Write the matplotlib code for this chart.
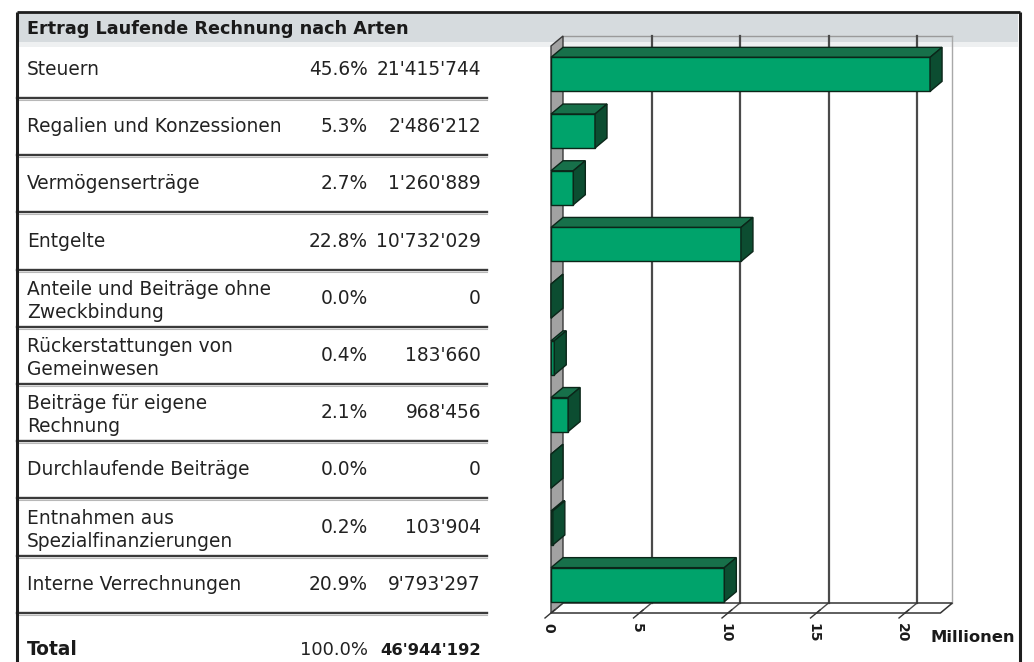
import matplotlib
matplotlib.use("Agg")
import matplotlib.pyplot as plt
from matplotlib.patches import Polygon, Rectangle
from matplotlib.transforms import ScaledTranslation

# ---- data -------------------------------------------------------------
title = "Ertrag Laufende Rechnung nach Arten"
categories = [
    "Steuern",
    "Regalien und Konzessionen",
    "Vermögenserträge",
    "Entgelte",
    "Anteile und Beiträge ohne\nZweckbindung",
    "Rückerstattungen von\nGemeinwesen",
    "Beiträge für eigene\nRechnung",
    "Durchlaufende Beiträge",
    "Entnahmen aus\nSpezialfinanzierungen",
    "Interne Verrechnungen",
]
shares = [45.6, 5.3, 2.7, 22.8, 0.0, 0.4, 2.1, 0.0, 0.2, 20.9]
amounts = [21415744, 2486212, 1260889, 10732029, 0, 183660, 968456, 0, 103904, 9793297]
total_label = "Total"
total_share = 100.0
total_amount = 46944192
tick_values = [0, 5, 10, 15, 20]
unit_label = "Millionen"

# ---- styling ----------------------------------------------------------
W, H = 1034, 662
FONT = "DejaVu Sans"
FS = 13.4
FRONT = "#00a36b"
TOP = "#17704a"
SIDE = "#0c4d31"
EDGE = "#0b2619"


def fmt_amount(v):
    return f"{v:,}".replace(",", "'")


fig = plt.figure(figsize=(W / 100, H / 100), dpi=100)
fig.patch.set_facecolor("white")

# full-figure layer in pixel coordinates for the table and frame
base = fig.add_axes([0, 0, 1, 1])
base.set_xlim(0, W)
base.set_ylim(H, 0)
base.axis("off")

# header band
base.add_patch(Rectangle((18, 13), 1000, 29, facecolor="#d6dbde", edgecolor="none", zorder=0))
base.add_patch(Rectangle((18, 42), 1000, 5, facecolor="#eef0f1", edgecolor="none", zorder=0))
# frame
base.plot([16.5, 16.5], [H + 5, 12], color="#1e1e1e", lw=2.2, solid_capstyle="butt", zorder=5)
base.plot([16.5, 1019.5], [12, 12], color="#1e1e1e", lw=2.0, solid_capstyle="butt", zorder=5)
base.plot([1019.5, 1019.5], [12, H + 5], color="#1e1e1e", lw=2.2, solid_capstyle="butt", zorder=5)

base.text(27, 34, title, fontsize=12.7, fontweight="bold", family=FONT,
          color="#1a1a1a", va="baseline", ha="left")

row_pitch = 57.2
first_base = 75.0
pct_right = 368
val_right = 481
for i, (cat, sh, am) in enumerate(zip(categories, shares, amounts)):
    b = first_base + i * row_pitch
    lines = cat.split("\n")
    if len(lines) == 1:
        base.text(27, b, lines[0], fontsize=FS, family=FONT, color="#222",
                  va="baseline", ha="left")
    else:
        for k, ln in enumerate(lines):
            base.text(27, b - 8.8 + k * 22.7, ln, fontsize=FS, family=FONT,
                      color="#222", va="baseline", ha="left")
    base.text(pct_right, b, f"{sh:.1f}%", fontsize=FS, family=FONT, color="#222",
              va="baseline", ha="right")
    base.text(val_right, b, fmt_amount(am), fontsize=FS, family=FONT, color="#222",
              va="baseline", ha="right")
    # row separator (dark rule with a soft shadow)
    y = 98 + i * row_pitch
    base.plot([17, 487], [y, y], color="#3a3a3a", lw=1.7, zorder=2)
    base.plot([17, 487], [y + 2, y + 2], color="#b8b8b8", lw=0.8, zorder=2)

tb = 655
base.text(27, tb, total_label, fontsize=FS, family=FONT, fontweight="bold", color="#1a1a1a",
          va="baseline", ha="left")
base.text(pct_right, tb, f"{total_share:.1f}%", fontsize=13.0, family=FONT, color="#222",
          va="baseline", ha="right")
base.text(val_right, tb, fmt_amount(total_amount), fontsize=11.8, family=FONT,
          fontweight="bold", color="#1a1a1a", va="baseline", ha="right")

base.text(931, 637, unit_label, fontsize=11.8, family=FONT, fontweight="bold",
          color="#1a1a1a", va="center", ha="left")

# ---- 3-D style horizontal bar chart ----------------------------------
XMAX = 22
px_per_unit = 17.7
L, T, B = 551, 46, 613
R = L + XMAX * px_per_unit
ax = fig.add_axes([L / W, 1 - B / H, (R - L) / W, (B - T) / H])
n = len(categories)
ax.set_xlim(0, XMAX)
ax.set_ylim(n - 0.5, -0.5)
ax.patch.set_visible(False)
for s in ax.spines.values():
    s.set_visible(False)
ax.set_yticks([])

row_px = (B - T) / n
DX = 12 / px_per_unit      # depth offset to the right (data units)
DY = 10 / row_px           # depth offset upwards (category units)
y_top, y_bot = -0.5, n - 0.5

# back wall: grid lines, top and right edges
ax.plot([DX, XMAX + DX], [y_top - DY, y_top - DY], color="#9a9a9a", lw=1.0, zorder=1, clip_on=False)
ax.plot([XMAX + DX, XMAX + DX], [y_top - DY, y_bot - DY], color="#a8a8a8", lw=1.0, zorder=1, clip_on=False)
for v in tick_values[1:]:
    ax.plot([v + DX, v + DX], [y_top - DY, y_bot - DY], color="#4a4a4a", lw=1.6, zorder=1, clip_on=False)
    ax.plot([v + DX, v], [y_bot - DY, y_bot], color="#4a4a4a", lw=1.0, zorder=1, clip_on=False)

# floor
ax.add_patch(Polygon([(0, y_bot), (XMAX, y_bot), (XMAX + DX, y_bot - DY), (DX, y_bot - DY)],
                     closed=True, facecolor="none", edgecolor="#333", lw=1.1, zorder=2,
                     clip_on=False))
# left wall
ax.add_patch(Polygon([(0, y_top), (DX, y_top - DY), (DX, y_bot - DY), (0, y_bot)],
                     closed=True, facecolor="#a2a2a2", edgecolor="#3a3a3a", lw=1.0, zorder=2,
                     clip_on=False))

# slanted tick marks on the front floor edge
for v in tick_values:
    ax.plot([v + 0.3 * DX, v - 0.5 * DX], [y_bot - 0.3 * DY, y_bot + 0.5 * DY],
            color="#333", lw=1.0, zorder=2, clip_on=False)

half = 0.3
for i, am in enumerate(amounts):
    v = am / 1e6
    y1, y2 = i - half, i + half
    ax.add_patch(Polygon([(0, y1), (v, y1), (v + DX, y1 - DY), (DX, y1 - DY)], closed=True,
                         facecolor=TOP, edgecolor=EDGE, lw=1.0, zorder=4, clip_on=False))
    ax.add_patch(Rectangle((0, y1), v, y2 - y1, facecolor=FRONT, edgecolor=EDGE, lw=1.0,
                           zorder=4, clip_on=False))
    ax.add_patch(Polygon([(v, y1), (v + DX, y1 - DY), (v + DX, y2 - DY), (v, y2)], closed=True,
                         facecolor=SIDE, edgecolor=EDGE, lw=1.0, zorder=5, clip_on=False))

ax.set_xticks(tick_values)
ax.set_xticklabels([str(v) for v in tick_values], rotation=-90, fontsize=10,
                   fontweight="bold", family=FONT, color="#1a1a1a")
ax.tick_params(axis="x", length=0, pad=7)
shift = ScaledTranslation(-3 / 100, 0, fig.dpi_scale_trans)
for lbl in ax.get_xticklabels():
    lbl.set_transform(lbl.get_transform() + shift)

fig.savefig("out.png", dpi=100)
